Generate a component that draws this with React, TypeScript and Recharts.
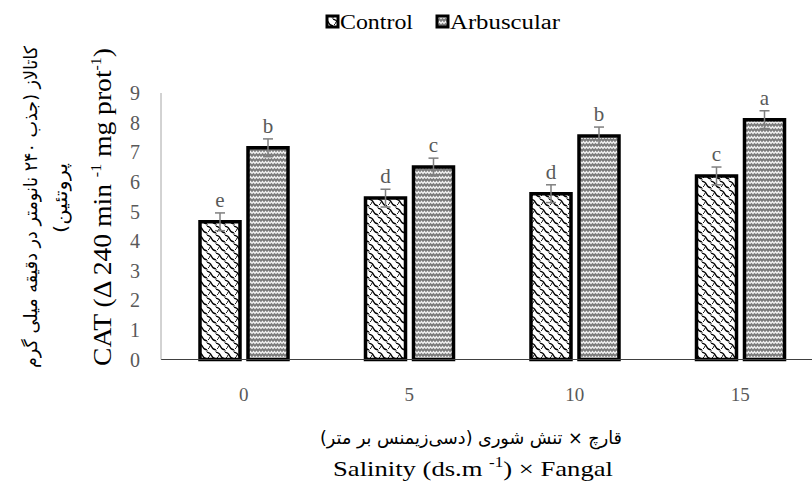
import React from "react";
import { BarChart, Bar, XAxis, YAxis, ErrorBar, LabelList } from "recharts";

const categories = ["0", "5", "10", "15"];
const controlValues = [4.65, 5.45, 5.6, 6.2];
const arbuscularValues = [7.15, 6.5, 7.55, 8.1];
const controlErrors = [0.3, 0.3, 0.3, 0.3];
const arbuscularErrors = [0.3, 0.3, 0.3, 0.3];
const controlLetters = ["e", "d", "d", "c"];
const arbuscularLetters = ["b", "c", "b", "a"];
const yTicks = [0, 1, 2, 3, 4, 5, 6, 7, 8, 9];

const data = categories.map((c, i) => ({
  salinity: c,
  control: controlValues[i],
  controlErr: controlErrors[i],
  controlLetter: controlLetters[i],
  arbuscular: arbuscularValues[i],
  arbuscularErr: arbuscularErrors[i],
  arbuscularLetter: arbuscularLetters[i],
}));

const serif = "Liberation Serif, DejaVu Serif, serif";
const persian = "DejaVu Sans, sans-serif";

function LetterLabel(props: any) {
  const { x, y, width, value } = props;
  return (
    <text
      x={x + width / 2}
      y={y - 15}
      textAnchor="middle"
      fill="#595959"
      fontSize={21}
      style={{ fontFamily: serif }}
    >
      {value}
    </text>
  );
}

function Patterns() {
  return (
    <defs>
      <pattern id="ctrlPat" patternUnits="userSpaceOnUse" width="9" height="9">
        <rect width="9" height="9" fill="#ffffff" />
        <path d="M-1,1 Q3,1 4.5,4.5 T10,8" fill="none" stroke="#000" strokeWidth="1.3" />
        <path d="M-5.5,5.5 Q-1.5,5.5 0,9 T5.5,12.5" fill="none" stroke="#000" strokeWidth="1.3" />
        <path d="M3.5,-3.5 Q7.5,-3.5 9,0 T14.5,3.5" fill="none" stroke="#000" strokeWidth="1.3" />
        <path d="M1,7 Q2.5,6 3,4" fill="none" stroke="#000" strokeWidth="0.9" />
      </pattern>
      <pattern id="arbPat" patternUnits="userSpaceOnUse" width="6" height="5">
        <rect width="6" height="5" fill="#7c7c7c" />
        <path d="M0,3.5 L1.5,1.5 L3,3.5 L4.5,1.5 L6,3.5" fill="none" stroke="#f2f2f2" strokeWidth="1.3" />
      </pattern>
    </defs>
  );
}

export default function App() {
  return (
    <div
      style={{
        position: "absolute",
        left: 0,
        top: 0,
        width: 812,
        height: 484,
        overflow: "hidden",
        background: "#fff",
      }}
    >
      <BarChart
        width={830}
        height={484}
        data={data}
        margin={{ top: 93, right: 7, left: 121, bottom: 84.5 }}
        barSize={40}
        barGap={8}
        style={{ fontFamily: serif }}
      >
        <Patterns />
        <XAxis
          dataKey="salinity"
          height={40}
          axisLine={{ stroke: "#404040", strokeWidth: 1 }}
          tickLine={false}
          tickMargin={22}
          tick={{ fill: "#595959", fontSize: 19, style: { fontFamily: serif } }}
        />
        <YAxis
          width={40}
          domain={[0, 9]}
          ticks={yTicks}
          interval={0}
          axisLine={{ stroke: "#a6a6a6", strokeWidth: 1 }}
          tickLine={false}
          tickSize={0}
          tickMargin={21}
          tick={{ fill: "#595959", fontSize: 20, style: { fontFamily: serif } }}
        />
        <Bar
          dataKey="control"
          name="Control"
          fill="url(#ctrlPat)"
          stroke="#000"
          strokeWidth={3.5}
          isAnimationActive={false}
        >
          <ErrorBar dataKey="controlErr" width={5} stroke="#7f7f7f" strokeWidth={1.5} />
          <LabelList dataKey="controlLetter" content={<LetterLabel />} />
        </Bar>
        <Bar
          dataKey="arbuscular"
          name="Arbuscular"
          fill="url(#arbPat)"
          stroke="#000"
          strokeWidth={3.5}
          isAnimationActive={false}
        >
          <ErrorBar dataKey="arbuscularErr" width={5} stroke="#7f7f7f" strokeWidth={1.5} />
          <LabelList dataKey="arbuscularLetter" content={<LetterLabel />} />
        </Bar>
      </BarChart>

      <svg
        width={812}
        height={484}
        style={{ position: "absolute", left: 0, top: 0, pointerEvents: "none", fontFamily: serif }}
      >
        {/* legend */}
        <rect x={327} y={16} width={11} height={11} fill="url(#ctrlPat)" stroke="#000" strokeWidth={3} />
        <text x={340} y={29} fontSize={20} fill="#000" textLength={73} lengthAdjust="spacingAndGlyphs">
          Control
        </text>
        <rect x={437} y={16} width={11} height={11} fill="url(#arbPat)" stroke="#000" strokeWidth={3} />
        <text x={450} y={29} fontSize={20} fill="#000" textLength={110} lengthAdjust="spacingAndGlyphs">
          Arbuscular
        </text>

        {/* y titles */}
        <text
          transform="translate(37,207) rotate(-90)"
          textAnchor="middle"
          direction="rtl"
          fontSize={18}
          style={{ fontFamily: persian }}
          fill="#000"
          textLength={322}
          lengthAdjust="spacingAndGlyphs"
        >
          کاتالاز (جذب ۲۴۰ نانومتر در دقیقه میلی گرم
        </text>
        <text
          transform="translate(67,198) rotate(-90)"
          textAnchor="middle"
          direction="rtl"
          fontSize={18}
          style={{ fontFamily: persian }}
          fill="#000"
          textLength={70}
          lengthAdjust="spacingAndGlyphs"
        >
          پروتئین)
        </text>
        <text
          transform="translate(111,207) rotate(-90)"
          textAnchor="middle"
          fontSize={26}
          fill="#000"
          textLength={318}
          lengthAdjust="spacingAndGlyphs"
        >
          CAT (Δ 240 min <tspan fontSize={15} dy={-10}>-1</tspan>
          <tspan dy={10}> mg prot</tspan>
          <tspan fontSize={15} dy={-10}>-1</tspan>
          <tspan dy={10}>)</tspan>
        </text>

        {/* x titles */}
        <text
          x={471}
          y={444}
          textAnchor="middle"
          direction="rtl"
          fontSize={18}
          style={{ fontFamily: persian }}
          fill="#000"
          textLength={302}
          lengthAdjust="spacingAndGlyphs"
        >
          قارچ × تنش شوری  (دسی‌زیمنس بر متر)
        </text>
        <text
          x={473}
          y={476}
          textAnchor="middle"
          fontSize={22}
          fill="#000"
          textLength={280}
          lengthAdjust="spacingAndGlyphs"
        >
          Salinity (ds.m <tspan fontSize={14} dy={-9}>-1</tspan>
          <tspan dy={9}>)  × Fangal</tspan>
        </text>
      </svg>
    </div>
  );
}
